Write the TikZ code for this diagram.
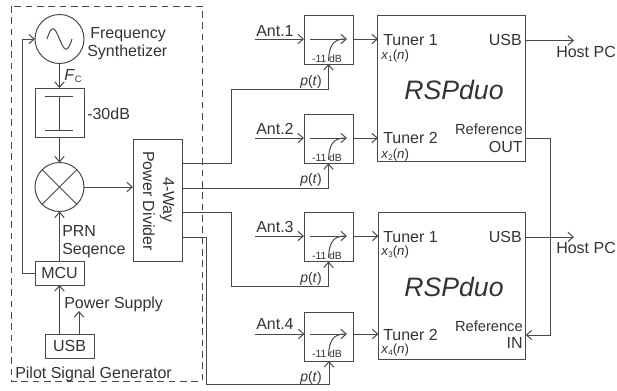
\documentclass[tikz,border=0pt]{standalone}
\usepackage{fontspec}
\setmainfont{Liberation Sans}
\usetikzlibrary{arrows.meta}
\definecolor{linegray}{HTML}{484848}
\tikzset{
    >={Straight Barb[length=4pt,width=7pt]},
    linestyle/.style={draw=linegray,line width=0.75pt},
    blockbox/.style={linestyle,inner sep=0,outer sep=0,minimum width=36.75pt,minimum height=36.75pt},
    lowbox/.style={blockbox,minimum height=18pt,text=black!80,font=\fontsize{12}{14}\selectfont},
    tallbox/.style={blockbox,minimum width=110.5pt,minimum height=110pt},
    roundbox/.style={linestyle,circle,inner sep=0,outer sep=0,minimum size=36.75pt},
    lbl/.style={inner sep=0,anchor=base west,text=black!80,font=\fontsize{12}{14}\selectfont},
    lblright/.style={lbl,anchor=base east},
    smalllbl/.style={lbl,font=\fontsize{10}{12}\selectfont},
    ptlbl/.style={lbl,font=\fontsize{10.5}{12}\selectfont},
    dblbl/.style={lbl,anchor=base,font=\fontsize{7.8}{9}\selectfont},
    duolbl/.style={lbl,font=\fontsize{20}{24}\selectfont\itshape},
    vertlbl/.style={lbl,anchor=base,rotate=-90}
}
\begin{document}
\begin{tikzpicture}[x=0.75pt,y=-0.75pt]
    \useasboundingbox (0,0) rectangle (617,390);

    % pilot signal generator
    \draw[linestyle,dash pattern=on 5pt off 3.5pt] (11,6) rectangle (202,381);
    \node[lbl] (pilot) at (15,378) {Pilot Signal Generator};

    \node[roundbox] (osc) at (59.5,39) {};
    \draw[linestyle] (47,39) .. controls (52,23) and (55,28) .. (59.5,39) .. controls (64,50) and (67,55) .. (72,39);
    \node[lbl] (freq) at (90,38) {Frequency};
    \node[lbl] (synth) at (87,56) {Synthetizer};
    \node[blockbox] (att) at (59.5,112.5) {};
    \draw[linestyle] (45,96) -- (73,96);
    \draw[linestyle] (45,130) -- (73,130);
    \draw[linestyle] (59.5,96) -- (59.5,130);
    \node[lbl] (atttext) at (87,119) {-30dB};
    \node[lbl] (fc) at (64,80) {\textit{F}\raisebox{-2pt}{\fontsize{7}{8}\selectfont C}};
    \node[roundbox] (mix) at (59.5,187) {};
    \draw[linestyle] (mix.north west) -- (mix.south east);
    \draw[linestyle] (mix.north east) -- (mix.south west);
    \node[lowbox] (mcu) at (59.5,273) {MCU};
    \node[lowbox] (usb) at (69.5,346) {USB};
    \node[lbl] (prn) at (62,236) {PRN};
    \node[lbl] (seq) at (62,254) {Seqence};
    \node[lbl] (power) at (64,308) {Power Supply};
    \coordinate (pwr) at (79,311);

    \draw[linestyle,->] (osc.south) -- (att.north);
    \draw[linestyle,->] (att.south) -- (mix.north);
    \draw[linestyle,->] (mcu.north) -- (mix.south);
    \draw[linestyle,->] (usb.north -| mcu.south) -- (mcu.south);
    \draw[linestyle,->] (usb.north -| pwr) -- (pwr);
    \draw[linestyle,->] (mcu.west) -- (22,273) |- (osc.west);

    % power divider
    \node[blockbox,minimum height=91.5pt] (div) at (157.5,200) {};
    \node[vertlbl] (way) at (163,200) {4-Way};
    \node[vertlbl] (divtext) at (143,201) {Power Divider};
    \draw[linestyle,->] (mix.east) -- (div.west |- mix.east);
    \coordinate (d1) at (182,163.5);
    \coordinate (d2) at (182,188);
    \coordinate (d3) at (182,212);
    \coordinate (d4) at (182,237);

    % couplers
    \node[blockbox] (c1) at (328.5,39.5) {};
    \node[blockbox] (c2) at (328.5,138.75) {};
    \node[blockbox] (c3) at (328.5,237) {};
    \node[blockbox] (c4) at (329,336.5) {};

    \node[dblbl] (db1) at (327,62) {-11 dB};
    \node[dblbl] (db2) at (327,161) {-11 dB};
    \node[dblbl] (db3) at (327,259) {-11 dB};
    \node[dblbl] (db4) at (327,357) {-11 dB};

    \draw[linestyle,->] (310,39) -- (347,39);
    \draw[linestyle,->] (310,138) -- (347,138);
    \draw[linestyle,->] (310,236) -- (347,236);
    \draw[linestyle,->] (310,334) -- (347,334);
    \draw[linestyle] (328.5,61) .. controls (329,46) and (333,39) .. (345,39);
    \draw[linestyle] (328.5,160) .. controls (329,145) and (333,138) .. (345,138);
    \draw[linestyle] (328.5,258) .. controls (329,243) and (333,236) .. (345,236);
    \draw[linestyle] (328.5,356) .. controls (329,341) and (333,334) .. (345,334);

    \node[lbl] (ant1) at (256,36) {Ant.1};
    \node[lbl] (ant2) at (256,134) {Ant.2};
    \node[lbl] (ant3) at (256,232) {Ant.3};
    \node[lbl] (ant4) at (256,329) {Ant.4};
    \coordinate (a1) at (255,39);
    \coordinate (a2) at (255,138);
    \coordinate (a3) at (255,236);
    \coordinate (a4) at (255,334);
    \draw[linestyle,->] (a1) -- (a1 -| c1.west);
    \draw[linestyle,->] (a2) -- (a2 -| c2.west);
    \draw[linestyle,->] (a3) -- (a3 -| c3.west);
    \draw[linestyle,->] (a4) -- (a4 -| c4.west);

    \draw[linestyle,->] (d1) -- (231,163.5) -- (231,89) -| (c1.south);
    \draw[linestyle,->] (d2) -| (c2.south);
    \draw[linestyle,->] (d3) -- (231,212) -- (231,286) -| (c3.south);
    \draw[linestyle,->] (d4) -- (206.5,237) -- (206.5,384) -| (c4.south);

    \node[ptlbl] (p1) at (300,85.5) {\textit{p}(\textit{t})};
    \node[ptlbl] (p2) at (300,183) {\textit{p}(\textit{t})};
    \node[ptlbl] (p3) at (300,282) {\textit{p}(\textit{t})};
    \node[ptlbl] (p4) at (300,381) {\textit{p}(\textit{t})};

    % receivers
    \node[tallbox] (duo1) at (451.5,88.5) {};
    \node[tallbox] (duo2) at (452,286) {};
    \node[duolbl] (name1) at (404,99) {RSPduo};
    \node[duolbl] (name2) at (404,296) {RSPduo};

    \node[lbl] (t1) at (383,45) {Tuner 1};
    \node[lbl] (t2) at (383,143) {Tuner 2};
    \node[lbl] (t3) at (383,242) {Tuner 1};
    \node[lbl] (t4) at (383,340) {Tuner 2};
    \node[smalllbl] (x1) at (381,59) {\textit{x}\raisebox{-1.5pt}{\fontsize{6}{7}\selectfont 1}(\textit{n})};
    \node[smalllbl] (x2) at (381,158) {\textit{x}\raisebox{-1.5pt}{\fontsize{6}{7}\selectfont 2}(\textit{n})};
    \node[smalllbl] (x3) at (381,255) {\textit{x}\raisebox{-1.5pt}{\fontsize{6}{7}\selectfont 3}(\textit{n})};
    \node[smalllbl] (x4) at (381,353) {\textit{x}\raisebox{-1.5pt}{\fontsize{6}{7}\selectfont 4}(\textit{n})};

    \coordinate (in1) at (378,39);
    \coordinate (in2) at (378,138);
    \coordinate (in3) at (378.5,236);
    \coordinate (in4) at (378.5,334);
    \draw[linestyle,->] (c1.east |- in1) -- (in1);
    \draw[linestyle,->] (c2.east |- in2) -- (in2);
    \draw[linestyle,->] (c3.east |- in3) -- (in3);
    \draw[linestyle,->] (c4.east |- in4) -- (in4);

    \node[lblright] (usb1) at (522,45) {USB};
    \node[lblright] (usb2) at (522,242) {USB};
    \node[lblright,font=\fontsize{11}{13}\selectfont] (ref1) at (523,134) {Reference};
    \node[lblright] (out) at (523,152) {OUT};
    \node[lblright,font=\fontsize{11}{13}\selectfont] (ref2) at (523,331) {Reference};
    \node[lblright] (refin) at (523,348) {IN};

    % host links
    \node[lbl] (host1) at (556,57) {Host PC};
    \node[lbl] (host2) at (556,253) {Host PC};
    \coordinate (h1) at (574,40.5);
    \coordinate (h2) at (574,237);
    \draw[linestyle,->] (h1 -| duo1.east) -- (h1);
    \draw[linestyle,->] (h2 -| duo2.east) -- (h2);
    \coordinate (r1) at (550,138.5);
    \coordinate (r2) at (550,335);
    \draw[linestyle,->] (r1 -| duo1.east) -- (r1) -- (r2) -- (r2 -| duo2.east);
\end{tikzpicture}
\end{document}
